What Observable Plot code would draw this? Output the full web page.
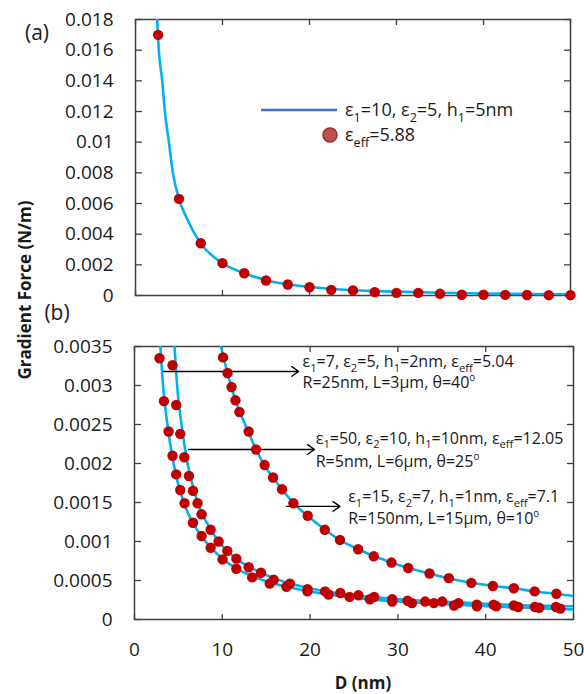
<!DOCTYPE html>
<html><head><meta charset="utf-8">
<script src="https://cdn.jsdelivr.net/npm/d3@7"></script>
<script src="https://cdn.jsdelivr.net/npm/@observablehq/plot@0.6"></script>
<style>
body{margin:0;background:#fff;}
#wrap{position:relative;width:584px;height:694px;font-family:"Open Sans",sans-serif;overflow:hidden;}
#top{position:absolute;left:0;top:0;}
#bot{position:absolute;left:0;top:300px;}
#ylab{position:absolute;left:24px;top:290px;transform:translate(-50%,-50%) rotate(-90deg);font-weight:bold;font-size:17px;white-space:nowrap;color:#1a1a1a;}
</style></head>
<body>
<div id="wrap"><div id="top"></div><div id="bot"></div><div id="ylab">Gradient Force (N/m)</div></div>
<script>
// ---------- data ----------
// Panel (a)
const topDotD = [2.6, 5, 7.5, 10, 12.5, 15, 17.5, 20, 22.5, 25, 27.5, 30, 32.5, 35, 37.5, 40, 42.5, 45, 47.5, 50];
const topDotF = [0.0170, 0.0063, 0.00341, 0.00211, 0.00145, 0.00098, 0.00072, 0.00054, 0.00037, 0.00033, 0.00022, 0.00017, 0.00017, 0.00011, 0.00005, 0.00005, 0.00004, 0.00003, 0.00002, 0.00002];
const topCurveD = [2.49, 2.68, 3.07, 3.38, 3.84, 4.3, 5, 5.76, 7.5, 10, 12.5, 15, 17.5, 20, 25, 30, 35, 40, 45, 50];
const topCurveF = [0.018, 0.016, 0.014, 0.012, 0.010, 0.008, 0.0063, 0.0052, 0.0034, 0.0021, 0.00145, 0.001, 0.00073, 0.00055, 0.00034, 0.00025, 0.00018, 0.00013, 0.0001, 0.00008];

// Panel (b): left curve (eps1=7), middle (eps1=50), right (eps1=15)
const leftDotD = [2.85, 3.35, 3.88, 4.33, 4.75, 5.21, 5.7, 6.66, 7.64, 8.67, 10.03, 11.6, 13.4, 15.4, 17.3, 19.7, 22.1, 24.5, 26.8, 29.35, 31.6, 34.1, 36.4, 39.0, 41.2, 43.7, 46.1, 48.5];
const leftDotF = [0.00335, 0.0028, 0.00241, 0.0021, 0.00186, 0.00166, 0.00149, 0.00124, 0.00107, 0.00092, 0.00077, 0.00065, 0.00054, 0.00046, 0.00042, 0.00036, 0.00032, 0.00029, 0.00026, 0.00023, 0.00021, 0.00021, 0.00018, 0.00017, 0.00017, 0.00016, 0.00015, 0.00014];
const midDotD = [4.33, 4.75, 5.21, 5.67, 6.2, 6.66, 7.18, 7.64, 8.67, 9.58, 10.57, 11.6, 13.0, 14.4, 15.85, 17.7, 19.7, 21.7, 23.45, 25.5, 27.3, 29.35, 31.1, 33.1, 35.05, 36.9, 39.0, 40.9, 43.2, 45.6, 48.0];
const midDotF = [0.00326, 0.00275, 0.00238, 0.00208, 0.00184, 0.00165, 0.00149, 0.00135, 0.00115, 0.00100, 0.00088, 0.00078, 0.00067, 0.0006, 0.00051, 0.00046, 0.00039, 0.00036, 0.00034, 0.00031, 0.00029, 0.00026, 0.00024, 0.00023, 0.00023, 0.00021, 0.00019, 0.00019, 0.00018, 0.00016, 0.00016];
const rightDotD = [10.08, 10.6, 11.05, 11.5, 11.95, 13.0, 13.84, 14.82, 15.78, 16.8, 18.1, 19.73, 21.67, 23.4, 25.47, 27.25, 29.27, 31.17, 33.6, 35.8, 38.36, 40.82, 43.2, 45.58, 48.05];
const rightDotF = [0.00336, 0.00316, 0.00298, 0.00281, 0.00266, 0.00241, 0.00218, 0.00198, 0.00182, 0.00167, 0.00149, 0.00133, 0.00115, 0.00102, 0.0009, 0.00081, 0.00073, 0.00066, 0.00059, 0.00053, 0.00047, 0.00043, 0.0004, 0.00036, 0.00033];

const leftCurveD = [2.95, 3.25, 3.75, 4.45, 5.6, 6.7, 8.1, 10, 12, 15, 20, 25, 30, 35, 40, 45, 50];
const leftCurveF = [0.0035, 0.003, 0.0025, 0.002, 0.0015, 0.00123, 0.001, 0.00078, 0.00063, 0.00049, 0.00036, 0.00028, 0.00023, 0.0002, 0.00017, 0.00015, 0.00013];
const midCurveD = [4.56, 4.85, 5.35, 6.05, 7.2, 8.7, 9.6, 11.6, 14.4, 17.7, 20, 25, 30, 35, 40, 45, 50];
const midCurveF = [0.0035, 0.003, 0.0025, 0.002, 0.0015, 0.00115, 0.001, 0.00078, 0.0006, 0.00046, 0.0004, 0.00031, 0.00026, 0.00023, 0.0002, 0.00018, 0.00017];
const rightCurveD = [9.85, 10.5, 11.5, 12.6, 13.84, 14.8, 16.8, 18.2, 19.7, 21.7, 23.5, 25.5, 27.3, 29.3, 31.2, 33.6, 35.8, 38.4, 40.8, 43.2, 45.6, 48, 50];
const rightCurveF = [0.0035, 0.0032, 0.00281, 0.0025, 0.00218, 0.00198, 0.00167, 0.00148, 0.00133, 0.00115, 0.00101, 0.0009, 0.00081, 0.00073, 0.00066, 0.00059, 0.00053, 0.00047, 0.00043, 0.0004, 0.00036, 0.00033, 0.0003];

// annotation arrows and labels (panel b)
const arrowD1 = [3.3, 6.16, 17.3];
const arrowD2 = [18.7, 20.5, 23.4];
const arrowF = [0.00318, 0.00218, 0.00145];
const labelD = [19.2, 20.7, 24.4];
const labelF1 = [0.0033, 0.00232, 0.001566];
const labelF2 = [0.003035, 0.002023, 0.001289];
const labelLine1 = ["ε_{1}=7, ε_{2}=5, h_{1}=2nm, ε_{eff}=5.04", "ε_{1}=50, ε_{2}=10, h_{1}=10nm, ε_{eff}=12.05", "ε_{1}=15, ε_{2}=7, h_{1}=1nm, ε_{eff}=7.1"];
const labelLine2 = ["R=25nm, L=3μm, θ=40^{o}", "R=5nm, L=6μm, θ=25^{o}", "R=150nm, L=15μm, θ=10^{o}"];

// ticks
const xTicks = [0, 10, 20, 30, 40, 50];
const topYTicks = [0, 0.002, 0.004, 0.006, 0.008, 0.01, 0.012, 0.014, 0.016, 0.018];
const botYTicks = [0, 0.0005, 0.001, 0.0015, 0.002, 0.0025, 0.003, 0.0035];
const legendLine = "ε_{1}=10, ε_{2}=5, h_{1}=5nm";
const legendDot = "ε_{eff}=5.88";

// ---------- styling ----------
const lineColor = "#00b0f0", dotColor = "#c00000", frameColor = "#404040", textColor = "#1a1a1a";
const zip = (D, F) => D.map((d, i) => ({D: d, F: F[i]}));
const yFmt = d => d === 0 ? "0" : String(parseFloat(d.toFixed(6)));

function axes(yTicks, showX) {
  const tk = {stroke: frameColor, strokeWidth: 1.3, tickSize: 6, fill: "none", label: null};
  return [
    Plot.frame({stroke: frameColor, strokeWidth: 1.5}),
    Plot.axisX(xTicks, {...tk, anchor: "top", frameAnchor: "bottom"}),
    Plot.axisX(xTicks, {...tk, anchor: "bottom", frameAnchor: "top"}),
    Plot.axisY(yTicks, {...tk, anchor: "right", frameAnchor: "left"}),
    Plot.axisY(yTicks, {...tk, anchor: "left", frameAnchor: "right"}),
    Plot.axisY(yTicks, {anchor: "left", tickSize: 0, tickPadding: 22, tickFormat: yFmt, label: null, fill: textColor}),
    showX ? Plot.axisX(xTicks, {anchor: "bottom", tickSize: 0, tickPadding: 23, label: null, fill: textColor}) : null
  ];
}

function richText(parent, str, x, yc, fs) {
  const t = parent.append("text").attr("x", x).attr("y", yc + fs * 0.35)
    .attr("font-size", fs).attr("fill", textColor).attr("text-anchor", "start")
    .attr("font-family", "'Open Sans', sans-serif");
  const parts = str.split(/(_\{[^}]*\}|\^\{[^}]*\})/).filter(s => s !== "");
  let shift = 0;
  for (const p of parts) {
    let txt = p, dy = 0, size = fs;
    if (p.startsWith("_{")) { txt = p.slice(2, -1); size = fs * 0.7; dy = fs * 0.3; }
    else if (p.startsWith("^{")) { txt = p.slice(2, -1); size = fs * 0.62; dy = -fs * 0.42; }
    const s = t.append("tspan").attr("font-size", size).text(txt);
    if (dy - shift !== 0) s.attr("dy", dy - shift);
    shift = dy;
  }
  return t;
}

const baseStyle = "font-family:'Open Sans',sans-serif;font-size:19px;color:" + textColor + ";background:transparent;overflow:visible;";

// ---------- panel (a) ----------
const topPlot = Plot.plot({
  width: 584, height: 300,
  marginLeft: 135, marginRight: 14, marginTop: 19, marginBottom: 5,
  style: baseStyle,
  x: {domain: [0, 50]},
  y: {domain: [0, 0.018]},
  marks: [
    ...axes(topYTicks, false),
    Plot.line(zip(topCurveD, topCurveF), {x: "D", y: "F", stroke: lineColor, strokeWidth: 2.6, curve: "monotone-x", clip: true}),
    Plot.dot(zip(topDotD, topDotF), {x: "D", y: "F", r: 5.2, fill: dotColor})
  ]
});
document.getElementById("top").appendChild(topPlot);
{
  const svg = d3.select(topPlot);
  svg.append("line").attr("x1", 261).attr("x2", 337).attr("y1", 110).attr("y2", 110)
    .attr("stroke", "#4472c4").attr("stroke-width", 2.5);
  richText(svg, legendLine, 345, 110, 18);
  svg.append("circle").attr("cx", 330).attr("cy", 135).attr("r", 7)
    .attr("fill", "#c0504d").attr("stroke", "#8c3331").attr("stroke-width", 1.5);
  richText(svg, legendDot, 345, 135, 18);
  svg.append("text").attr("x", 37).attr("y", 33 + 7).attr("text-anchor", "middle")
    .attr("font-size", 21).attr("fill", textColor).text("(a)");
}

// ---------- panel (b) ----------
const botPlot = Plot.plot({
  width: 584, height: 394,
  marginLeft: 134, marginRight: 11, marginTop: 46, marginBottom: 75,
  style: baseStyle,
  x: {domain: [0, 50]},
  y: {domain: [0, 0.0035]},
  marks: [
    ...axes(botYTicks, true),
    Plot.line(zip(leftCurveD, leftCurveF), {x: "D", y: "F", stroke: lineColor, strokeWidth: 2.6, curve: "monotone-x", clip: true}),
    Plot.line(zip(midCurveD, midCurveF), {x: "D", y: "F", stroke: lineColor, strokeWidth: 2.6, curve: "monotone-x", clip: true}),
    Plot.line(zip(rightCurveD, rightCurveF), {x: "D", y: "F", stroke: lineColor, strokeWidth: 2.6, curve: "monotone-x", clip: true}),
    Plot.arrow(arrowF.map((f, i) => ({x1: arrowD1[i], x2: arrowD2[i], y: f})), {x1: "x1", x2: "x2", y1: "y", y2: "y", stroke: "#000", strokeWidth: 1.4, headLength: 9, headAngle: 70, insetStart: 0, insetEnd: 0}),
    Plot.dot(zip(leftDotD, leftDotF), {x: "D", y: "F", r: 5.2, fill: dotColor}),
    Plot.dot(zip(midDotD, midDotF), {x: "D", y: "F", r: 5.2, fill: dotColor}),
    Plot.dot(zip(rightDotD, rightDotF), {x: "D", y: "F", r: 5.2, fill: dotColor})
  ]
});
document.getElementById("bot").appendChild(botPlot);
{
  const svg = d3.select(botPlot);
  const sx = botPlot.scale("x"), sy = botPlot.scale("y");
  labelD.forEach((d, i) => {
    richText(svg, labelLine1[i], sx.apply(d), sy.apply(labelF1[i]), 16);
    richText(svg, labelLine2[i], sx.apply(d), sy.apply(labelF2[i]), 16);
  });
  svg.append("text").attr("x", 57).attr("y", 13 + 7).attr("text-anchor", "middle")
    .attr("font-size", 21).attr("fill", textColor).text("(b)");
  svg.append("text").attr("x", 363).attr("y", 383 + 6).attr("text-anchor", "middle")
    .attr("font-size", 17).attr("font-weight", "bold").attr("fill", textColor).text("D (nm)");
}
</script>
</body></html>
